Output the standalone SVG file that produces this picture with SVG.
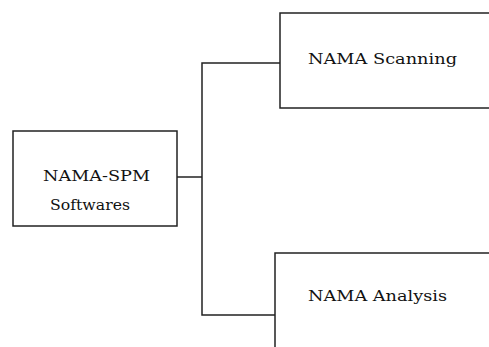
<svg xmlns="http://www.w3.org/2000/svg" width="489" height="347" viewBox="0 0 489 347">
<style>
.box{fill:#fff;stroke:#222;stroke-width:1.5}
.ln{fill:none;stroke:#222;stroke-width:1.5}
.t{font-family:"DejaVu Serif","Liberation Serif",serif;font-size:14px;fill:#111}
</style>
<rect width="489" height="347" fill="#fff"/>
<g id="connectors">
<polyline class="ln" points="177,177 202,177"/>
<polyline class="ln" points="280,63 202,63 202,315 275,315"/>
</g>
<g id="node-spm">
<rect class="box" x="13" y="131" width="164" height="95"/>
<text class="t" x="43" y="181" textLength="107" lengthAdjust="spacingAndGlyphs">NAMA-SPM</text>
<text class="t" x="50" y="210" textLength="80" lengthAdjust="spacingAndGlyphs">Softwares</text>
</g>
<g id="node-scanning">
<rect class="box" x="280" y="13" width="220" height="95"/>
<text class="t" x="308" y="64" textLength="149" lengthAdjust="spacingAndGlyphs">NAMA Scanning</text>
</g>
<g id="node-analysis">
<rect class="box" x="275" y="253" width="225" height="110"/>
<text class="t" x="308" y="301" textLength="139" lengthAdjust="spacingAndGlyphs">NAMA Analysis</text>
</g>
</svg>
